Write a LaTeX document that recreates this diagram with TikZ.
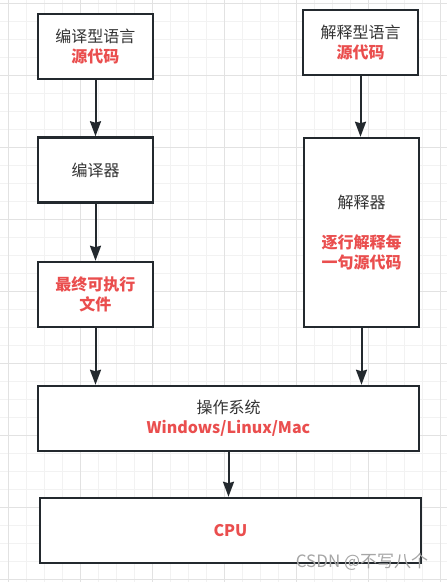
\documentclass[tikz,border=0pt]{standalone}
\usepackage{fontspec}
\setmainfont{Noto Sans CJK SC}
\usepackage{tikz}
\usetikzlibrary{arrows.meta}
\definecolor{boxline}{HTML}{23292E}
\definecolor{txtgray}{HTML}{333333}
\definecolor{txtred}{HTML}{EA4E4E}
\definecolor{gridminor}{HTML}{F2F2F2}
\definecolor{gridmajor}{HTML}{E2E2E2}
\newcommand{\redtxt}[1]{\textcolor{txtred}{\bfseries #1}}

\begin{document}
\begin{tikzpicture}[x=1pt,y=-1pt,
  box/.style={draw=boxline,line width=2.5pt,fill=white,text=txtgray,align=center,
    minimum width=115pt,minimum height=65pt,inner sep=0pt,
    font=\fontsize{16pt}{20pt}\selectfont},
  widebox/.style={box,minimum width=381pt},
  flow/.style={draw=boxline,line width=2pt,-{Stealth[length=15pt,width=11pt,inset=1.5pt]}}
  ]
  \useasboundingbox (0,0) rectangle (447,582);
  \fill[white] (0,0) rectangle (447,582);
  % grid
  \foreach \gx in {8.5,26.5,...,446} {\draw[gridminor,line width=1pt] (\gx,0) -- (\gx,582);}
  \foreach \gy in {3.7,21.7,...,581} {\draw[gridminor,line width=1pt] (0,\gy) -- (447,\gy);}
  \foreach \gx in {8.5,80.5,...,446} {\draw[gridmajor,line width=1pt] (\gx,0) -- (\gx,582);}
  \foreach \gy in {3.7,75.7,...,581} {\draw[gridmajor,line width=1pt] (0,\gy) -- (447,\gy);}

  % compiled side
  \node[box] (compsrc) at (95.5,46.5) {编译型语言\\\redtxt{源代码}};
  \node[box] (compiler) at (95.5,170) {编译器};
  \node[box] (exefile) at (95.5,294.5) {\redtxt{最终可执行}\\\redtxt{文件}};
  % interpreted side
  \node[box] (interpsrc) at (360.5,42.5) {解释型语言\\\redtxt{源代码}};
  \node[box,minimum height=189pt] (interpreter) at (361.5,232.5)
    {解释器\\[20pt]\redtxt{逐行解释每}\\\redtxt{一句源代码}};
  % bottom
  \node[widebox] (os) at (228.5,418.5) {操作系统\\\redtxt{Windows/Linux/Mac}};
  \node[widebox] (cpu) at (230.5,530.5) {\redtxt{CPU}};

  \draw[flow] (compsrc) -- (compiler);
  \draw[flow] (compiler) -- (exefile);
  \draw[flow] (exefile.south) -- (exefile.south |- os.north);
  \draw[flow] (interpsrc) -- (interpsrc |- interpreter.north);
  \draw[flow] (interpreter.south) -- (interpreter.south |- os.north);
  \draw[flow] (os.south) -- (os.south |- cpu.north);

  \node[text=gray!70,font=\fontsize{17pt}{20pt}\selectfont] (mark) at (362,562) {CSDN @不写八个};
\end{tikzpicture}
\end{document}
